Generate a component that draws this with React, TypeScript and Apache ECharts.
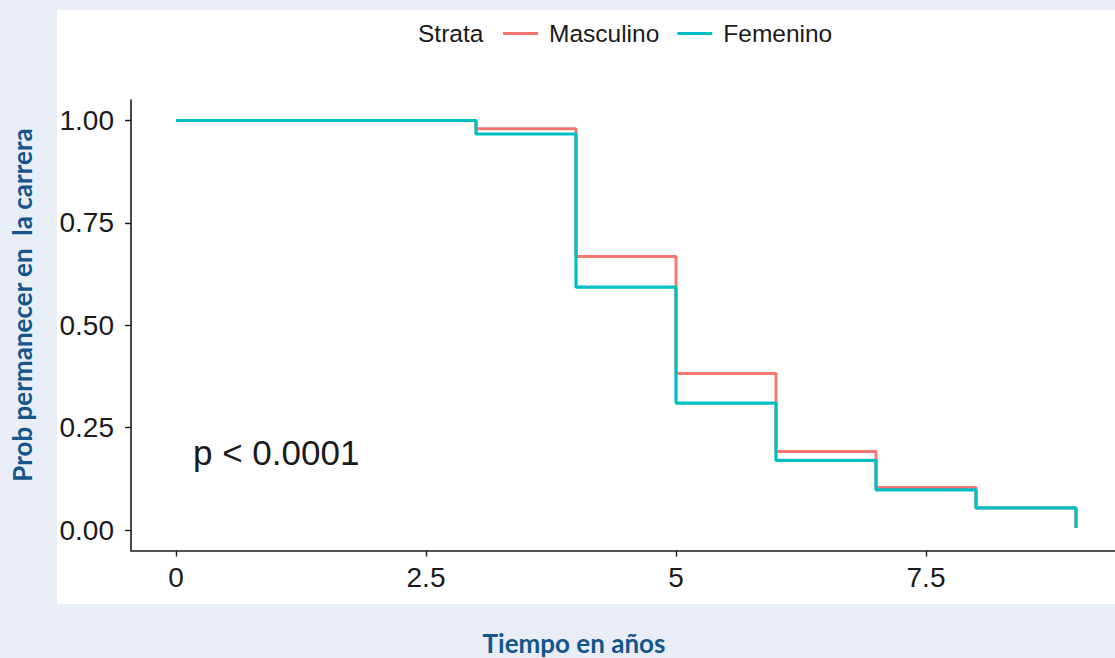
import React, { useEffect, useRef } from "react";
import * as echarts from "echarts";

const strata = ["Masculino", "Femenino"];
const timesMasc = [0, 3, 4, 5, 6, 7, 8, 9];
const survMasc = [1.0, 0.98, 0.668, 0.382, 0.192, 0.104, 0.054, 0.005];
const timesFem = [0, 3, 4, 5, 6, 7, 8, 9];
const survFem = [1.0, 0.967, 0.593, 0.31, 0.17, 0.098, 0.054, 0.005];
const xTicks = [0, 2.5, 5, 7.5];
const yTicks = [0, 0.25, 0.5, 0.75, 1.0];
const colors = ["#F8766D", "#00BFC4"];
const pLabel = "p < 0.0001";
const xTitle = "Tiempo en años";
const yTitle = "Prob permanecer en  la carrera";

export default function App() {
  const ref = useRef<HTMLDivElement>(null);
  useEffect(() => {
    document.body.style.margin = "0";
    const chart = echarts.init(ref.current!, null, { renderer: "svg" });
    const tickFont = "Liberation Sans, Arial, sans-serif";
    const titleColor = "#14568c";
    chart.setOption({
      animation: false,
      backgroundColor: "#e9eef6",
      grid: { left: 131, right: 0, top: 100, bottom: 107.5, containLabel: false },
      legend: {
        data: strata,
        left: 498,
        top: 16,
        icon: "rect",
        itemWidth: 35,
        itemHeight: 3,
        itemGap: 18,
        textStyle: { fontSize: 24.5, fontFamily: tickFont, color: "#1a1a1a", padding: [0, 0, 0, 6] },
      },
      xAxis: {
        type: "value",
        min: -0.45,
        max: 9.39,
        splitLine: { show: false },
        axisLine: { show: true, onZero: false, lineStyle: { color: "#1a1a1a", width: 1.6 } },
        axisTick: { show: true, length: 6, customValues: xTicks, lineStyle: { color: "#1a1a1a", width: 1.4 } },
        axisLabel: {
          customValues: xTicks,
          formatter: (v: number) => String(v),
          fontSize: 28,
          fontFamily: tickFont,
          color: "#1a1a1a",
          margin: 13,
        },
      },
      yAxis: {
        type: "value",
        min: -0.05,
        max: 1.05,
        splitLine: { show: false },
        axisLine: { show: true, onZero: false, lineStyle: { color: "#1a1a1a", width: 1.6 } },
        axisTick: { show: true, length: 6, customValues: yTicks, lineStyle: { color: "#1a1a1a", width: 1.4 } },
        axisLabel: {
          customValues: yTicks,
          formatter: (v: number) => v.toFixed(2),
          fontSize: 28,
          fontFamily: tickFont,
          color: "#1a1a1a",
          margin: 17,
        },
      },
      graphic: [
        { type: "rect", z: -10, shape: { x: 57, y: 10, width: 1058, height: 594 }, style: { fill: "#ffffff" } },
        {
          type: "text",
          x: 418,
          y: 33,
          style: { text: "Strata", fontSize: 24.5, fontFamily: tickFont, fill: "#1a1a1a", verticalAlign: "middle" },
        },
        {
          type: "text",
          x: 193,
          y: 452,
          style: { text: pLabel, fontSize: 35, fontFamily: tickFont, fill: "#1a1a1a", verticalAlign: "middle" },
        },
        {
          type: "text",
          x: 574,
          y: 643,
          style: {
            text: xTitle,
            fontSize: 26,
            fontWeight: "bold",
            fontFamily: "Lato, Open Sans, sans-serif",
            fill: titleColor,
            align: "center",
            verticalAlign: "middle",
          },
        },
        {
          type: "text",
          x: 22,
          y: 305,
          rotation: Math.PI / 2,
          style: {
            text: yTitle,
            fontSize: 26,
            fontWeight: "bold",
            fontFamily: "Lato, Open Sans, sans-serif",
            fill: titleColor,
            align: "center",
            verticalAlign: "middle",
          },
        },
      ],
      series: [
        {
          name: strata[0],
          type: "line",
          step: "end",
          showSymbol: false,
          symbol: "none",
          color: colors[0],
          lineStyle: { width: 3, color: colors[0] },
          data: timesMasc.map((t, i) => [t, survMasc[i]]),
          z: 2,
        },
        {
          name: strata[1],
          type: "line",
          step: "end",
          showSymbol: false,
          symbol: "none",
          color: colors[1],
          lineStyle: { width: 3.2, color: colors[1] },
          data: timesFem.map((t, i) => [t, survFem[i]]),
          z: 3,
        },
      ],
    });
    return () => chart.dispose();
  }, []);
  return <div ref={ref} style={{ width: 1115, height: 658 }} />;
}
